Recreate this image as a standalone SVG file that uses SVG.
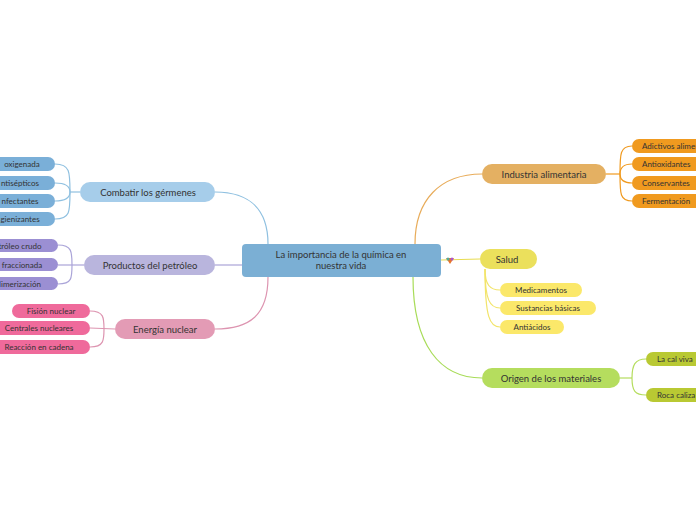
<svg xmlns="http://www.w3.org/2000/svg" width="696" height="520" viewBox="0 0 696 520">
<style>
text{font-family:"Lato","Open Sans",sans-serif;fill:#333;}
.m{font-size:9.5px;text-anchor:middle;}
.c{font-size:8px;text-anchor:middle;}
.l{fill:none;stroke-width:1.2;}
</style>
<rect width="696" height="520" fill="#fff"/>
<g id="connectors">
<path class="l" stroke="#8fc0e0" d="M268,244 C268,210 250,192 215,192"/>
<path class="l" stroke="#aaa4d8" d="M242,265 L215,265"/>
<path class="l" stroke="#dd94b0" d="M268,277 C268,315 250,329 215,329"/>
<path class="l" stroke="#e8ac5a" d="M415,244 C415,200 440,174 482,174"/>
<path class="l" stroke="#e8dc50" d="M441,260 L480,259"/>
<path class="l" stroke="#a8dc58" d="M413,277 C413,345 440,378 482,378"/>
<g stroke="#8fc0e0" class="l"><path d="M80,192 L70,192"/><path d="M55,164 C70,164 70,172 70,192 C70,212 70,219 55,219"/><path d="M55,183 C65,183 70,186 70,192"/><path d="M55,201 C65,201 70,198 70,192"/></g>
<g stroke="#aaa4d8" class="l"><path d="M84,265 L58,265"/><path d="M58,245 C72,245 72,252 72,265 C72,278 72,284 58,284"/></g>
<g stroke="#dd94b0" class="l"><path d="M115,329 L90,328"/><path d="M90,311 C104,311 104,318 104,329 C104,340 104,347 90,347"/></g>
<g stroke="#f09a1f" class="l"><path d="M606,174 L620,174"/><path d="M632,146 C620,146 620,154 620,174 C620,194 620,201 632,201"/><path d="M632,164 C624,164 620,168 620,174"/><path d="M632,183 C624,183 620,180 620,174"/></g>
<g stroke="#f2e46a" class="l"><path d="M485,269 C485,285 490,290 500,290"/><path d="M485,269 C485,300 490,308 500,308"/><path d="M485,269 C485,318 490,327 500,327"/></g>
<g stroke="#b5dd5e" class="l"><path d="M620,378 L632,378"/><path d="M646,359 C635,359 632,365 632,378 C632,391 635,395 646,395"/></g>
</g>
<g id="central"><rect x="242" y="244" width="199" height="33" rx="4" fill="#7bafd4"/><text class="m" x="341" y="258">La importancia de la química en</text><text class="m" x="341" y="269">nuestra vida</text></g>
<g id="icon"><polygon points="446,258 454,258 450,264" fill="#e8742a"/><circle cx="448" cy="259" r="1.5" fill="#5a9"/><circle cx="452" cy="259" r="1.5" fill="#a5c"/></g>
<g id="combatir"><rect x="80" y="182" width="135" height="20" rx="10" fill="#a6cdea"/><text class="m" x="148" y="195.5">Combatir los gérmenes</text></g>
<g id="c1"><rect x="-20" y="157" width="75" height="14" rx="7" fill="#7aafd8"/><text class="c" x="22" y="167">oxigenada</text></g>
<g id="c2"><rect x="-20" y="176" width="75" height="14" rx="7" fill="#7aafd8"/><text class="c" x="20" y="186">ntisépticos</text></g>
<g id="c3"><rect x="-20" y="194" width="75" height="14" rx="7" fill="#7aafd8"/><text class="c" x="20" y="204">nfectantes</text></g>
<g id="c4"><rect x="-20" y="212" width="75" height="14" rx="7" fill="#7aafd8"/><text class="c" x="20" y="222">gienizantes</text></g>
<g id="productos"><rect x="84" y="255" width="131" height="20" rx="10" fill="#b9b5dd"/><text class="m" x="150" y="268.5">Productos del petróleo</text></g>
<g id="p1"><rect x="-20" y="239" width="78" height="13" rx="6.5" fill="#9b8fd3"/><text class="c" x="20" y="248.5">tróleo crudo</text></g>
<g id="p2"><rect x="-20" y="258" width="78" height="13" rx="6.5" fill="#9b8fd3"/><text class="c" x="22" y="267.5">fraccionada</text></g>
<g id="p3"><rect x="-20" y="277" width="78" height="13" rx="6.5" fill="#9b8fd3"/><text class="c" x="20" y="286.5">limerización</text></g>
<g id="energia"><rect x="115" y="319" width="100" height="20" rx="10" fill="#e39bb5"/><text class="m" x="165" y="332.5">Energía nuclear</text></g>
<g id="e1"><rect x="12" y="304" width="78" height="14" rx="7" fill="#ef6a9b"/><text class="c" x="51" y="314">Fisión nuclear</text></g>
<g id="e2"><rect x="-10" y="321" width="100" height="14" rx="7" fill="#ef6a9b"/><text class="c" x="39" y="331">Centrales nucleares</text></g>
<g id="e3"><rect x="-10" y="340" width="100" height="14" rx="7" fill="#ef6a9b"/><text class="c" x="39" y="350">Reacción en cadena</text></g>
<g id="industria"><rect x="482" y="164" width="124" height="20" rx="10" fill="#e4b062"/><text class="m" x="544" y="177.5">Industria alimentaria</text></g>
<g id="i1"><rect x="632" y="139" width="80" height="14" rx="7" fill="#f09a1f"/><text class="c" x="642" y="149" text-anchor="start" style="text-anchor:start">Adictivos alimentarios</text></g>
<g id="i2"><rect x="632" y="157" width="80" height="14" rx="7" fill="#f09a1f"/><text class="c" x="642" y="167" style="text-anchor:start">Antioxidantes</text></g>
<g id="i3"><rect x="632" y="176" width="80" height="14" rx="7" fill="#f09a1f"/><text class="c" x="642" y="186" style="text-anchor:start">Conservantes</text></g>
<g id="i4"><rect x="632" y="194" width="80" height="14" rx="7" fill="#f09a1f"/><text class="c" x="642" y="204" style="text-anchor:start">Fermentación</text></g>
<g id="salud"><rect x="480" y="249" width="57" height="20" rx="10" fill="#ebe05c"/><text class="m" x="507" y="262.5">Salud</text></g>
<g id="s1"><rect x="500" y="283" width="82" height="14" rx="7" fill="#fbe86a"/><text class="c" x="541" y="293">Medicamentos</text></g>
<g id="s2"><rect x="500" y="301" width="96" height="14" rx="7" fill="#fbe86a"/><text class="c" x="548" y="311">Sustancias básicas</text></g>
<g id="s3"><rect x="500" y="320" width="64" height="14" rx="7" fill="#fbe86a"/><text class="c" x="532" y="330">Antiácidos</text></g>
<g id="origen"><rect x="482" y="368" width="138" height="20" rx="10" fill="#b5dd5e"/><text class="m" x="551" y="381.5">Origen de los materiales</text></g>
<g id="o1"><rect x="646" y="352" width="70" height="14" rx="7" fill="#b9c933"/><text class="c" x="657" y="362" style="text-anchor:start">La cal viva</text></g>
<g id="o2"><rect x="646" y="388" width="70" height="14" rx="7" fill="#b9c933"/><text class="c" x="657" y="398" style="text-anchor:start">Roca caliza</text></g>
</svg>
